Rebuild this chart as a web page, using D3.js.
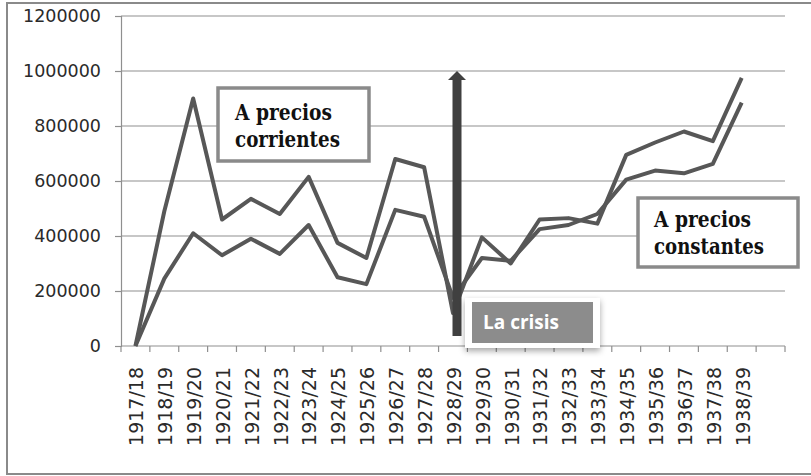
<!DOCTYPE html>
<html>
<head>
<meta charset="utf-8">
<script src="https://cdn.jsdelivr.net/npm/d3@7/dist/d3.min.js"></script>
<style>
  html, body { margin: 0; padding: 0; background: #fff; }
  svg { display: block; }
</style>
</head>
<body>
<script>
const categories = ["1917/18","1918/19","1919/20","1920/21","1921/22","1922/23","1923/24","1924/25","1925/26","1926/27","1927/28","1928/29","1929/30","1930/31","1931/32","1932/33","1933/34","1934/35","1935/36","1936/37","1937/38","1938/39"];
const preciosCorrientes = [0, 490000, 900000, 460000, 535000, 480000, 615000, 375000, 320000, 680000, 650000, 120000, 395000, 300000, 460000, 465000, 445000, 695000, 740000, 780000, 745000, 975000];
const preciosConstantes = [0, 245000, 410000, 330000, 390000, 335000, 440000, 250000, 225000, 495000, 470000, 175000, 320000, 310000, 425000, 440000, 480000, 605000, 638000, 628000, 662000, 885000];
const yTicks = [0, 200000, 400000, 600000, 800000, 1000000, 1200000];
const crisisCategory = "1928/29";
const arrowTop = 1000000;

const W = 811, H = 476;
const svg = d3.select("body").append("svg").attr("width", W).attr("height", H);

const defs = svg.append("defs");
const f = defs.append("filter").attr("id", "shadow").attr("x", "-20%").attr("y", "-20%").attr("width", "140%").attr("height", "160%");
f.append("feDropShadow").attr("dx", 0).attr("dy", 3).attr("stdDeviation", 3).attr("flood-color", "#000").attr("flood-opacity", 0.35);

svg.append("rect").attr("x", 7).attr("y", 3).attr("width", 830).attr("height", 471)
  .attr("fill", "none").attr("stroke", "#8a8a8a").attr("stroke-width", 2);

const plot = { left: 121, right: 785, top: 16, bottom: 346 };

const x = d3.scaleBand().domain(categories.concat([" "])).range([plot.left, plot.right]).paddingInner(0).paddingOuter(0);
const y = d3.scaleLinear().domain([0, 1200000]).range([plot.bottom, plot.top]);
const cx = d => x(d) + x.bandwidth() / 2;

svg.append("g").selectAll("line").data(yTicks.filter(t => t > 0)).join("line")
  .attr("x1", plot.left).attr("x2", plot.right)
  .attr("y1", d => y(d)).attr("y2", d => y(d))
  .attr("stroke", "#8f8f8f").attr("stroke-width", 1.2);

const yAxis = d3.axisLeft(y).tickValues(yTicks).tickSize(6).tickPadding(14).tickFormat(d3.format("d"));
const gy = svg.append("g").attr("transform", `translate(${plot.left},0)`).call(yAxis);
gy.select(".domain").attr("stroke", "#8f8f8f").attr("stroke-width", 1.2);
gy.selectAll(".tick line").attr("stroke", "#8f8f8f").attr("stroke-width", 1.2);
gy.selectAll("text").attr("font-family", "DejaVu Sans").attr("font-size", 17.5).attr("fill", "#2a2a2a");

const boundaries = d3.range(categories.length + 2).map(i => plot.left + i * x.bandwidth());
const gx = svg.append("g");
gx.append("line").attr("x1", plot.left).attr("x2", plot.right).attr("y1", plot.bottom).attr("y2", plot.bottom)
  .attr("stroke", "#8f8f8f").attr("stroke-width", 1.2);
gx.selectAll("line.tk").data(boundaries).join("line").attr("class", "tk")
  .attr("x1", d => d).attr("x2", d => d).attr("y1", plot.bottom).attr("y2", plot.bottom + 6)
  .attr("stroke", "#8f8f8f").attr("stroke-width", 1.2);
gx.selectAll("text").data(categories).join("text")
  .attr("transform", d => `translate(${cx(d) + 1},${plot.bottom + 21}) rotate(-90)`)
  .attr("text-anchor", "end").attr("dy", "0.36em")
  .attr("font-family", "DejaVu Sans").attr("font-size", 19).attr("fill", "#2a2a2a")
  .text(d => d);

const line = d3.line().x((d, i) => cx(categories[i])).y(d => y(d));
[preciosCorrientes, preciosConstantes].forEach(s => {
  svg.append("path").datum(s).attr("d", line)
    .attr("fill", "none").attr("stroke", "#575757").attr("stroke-width", 4)
    .attr("stroke-linejoin", "round");
});

const ax = cx(crisisCategory) + 4;
const aTop = y(arrowTop);
svg.append("rect").attr("x", ax - 4.5).attr("y", aTop + 8).attr("width", 9).attr("height", 336 - aTop - 8).attr("fill", "#404040");
svg.append("path").attr("d", `M${ax - 9},${aTop + 9} L${ax},${aTop} L${ax + 9},${aTop + 9} Z`).attr("fill", "#404040");

svg.append("rect").attr("x", 465).attr("y", 298).attr("width", 135).attr("height", 50)
  .attr("fill", "#fff").attr("filter", "url(#shadow)");
svg.append("rect").attr("x", 472).attr("y", 302).attr("width", 121).attr("height", 41).attr("fill", "#8c8c8c");
svg.append("text").attr("x", 483).attr("y", 329).attr("font-family", "Open Sans").attr("font-weight", "bold")
  .attr("font-size", 19).attr("fill", "#fff").text("La crisis");

function note(x0, y0, w, h, lines, lens, tx, ty) {
  svg.append("rect").attr("x", x0).attr("y", y0).attr("width", w).attr("height", h)
    .attr("fill", "#fff").attr("stroke", "#8a8a8a").attr("stroke-width", 3.5);
  lines.forEach((t, i) => {
    svg.append("text").attr("x", tx).attr("y", ty + i * 27)
      .style("font-family", "'DejaVu Serif'").style("font-weight", "700")
      .style("font-size", "22px").attr("fill", "#111")
      .attr("textLength", lens[i]).attr("lengthAdjust", "spacingAndGlyphs").text(t);
  });
}
note(218, 88, 151, 73, ["A precios", "corrientes"], [97, 105], 235, 120);
note(638, 198, 160, 69, ["A precios", "constantes"], [97, 110], 654, 227);
</script>
</body>
</html>
